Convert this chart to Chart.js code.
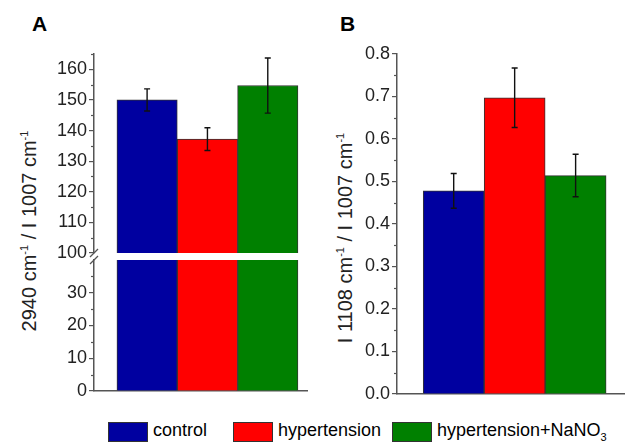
<!DOCTYPE html>
<html>
<head>
<meta charset="utf-8">
<script src="https://cdn.jsdelivr.net/npm/chart.js@4.4.1/dist/chart.umd.min.js"></script>
<style>
  body { margin: 0; background: #fff; font-family: 'Liberation Sans', Arial, sans-serif; }
  #wrap { position: relative; width: 625px; height: 442px; overflow: hidden; }
  canvas { position: absolute; }
  .panel { position: absolute; font-weight: bold; font-size: 21px; }
  .ytitle { position: absolute; width: 280px; height: 24px; line-height: 24px; color: #222;
            text-align: center; font-size: 20px; transform: rotate(-90deg); white-space: nowrap; }
  .ytitle sup { font-size: 11px; }
  .key { position: absolute; top: 422px; width: 38px; height: 18px; border: 1px solid #333; }
  .lbl { position: absolute; top: 420px; font-size: 18px; white-space: nowrap; }
  .lbl sub { font-size: 11px; }
</style>
</head>
<body>
<div id="wrap">
  <div class="panel" style="left:32px; top:12px">A</div>
  <div class="panel" style="left:340px; top:12px">B</div>
  <div class="ytitle" style="left:-116px; top:219px">2940 cm<sup>-1</sup> / I 1007 cm<sup>-1</sup></div>
  <div class="ytitle" style="left:200px; top:226px">I 1108 cm<sup>-1</sup> / I 1007 cm<sup>-1</sup></div>
  <canvas id="aHigh" width="320" height="264" style="left:0; top:0"></canvas>
  <canvas id="aLow" width="320" height="152" style="left:0; top:250px"></canvas>
  <canvas id="chartB" width="325" height="405" style="left:300px; top:0"></canvas>
  <div id="legend"></div>
</div>
<script>
const groups = ["control", "hypertension", "hypertension+NaNO3"];
const colors = ["#0000a0", "#ff0000", "#008000"];

// panel A: 2940/1007 ratio
const ratioA = [150, 137.2, 154.7];
const errA = [3.6, 3.7, 9.0];
// panel B: 1108/1007 ratio
const ratioB = [0.478, 0.697, 0.514];
const errB = [0.041, 0.07, 0.05];

const ticksAHigh = [100, 110, 120, 130, 140, 150, 160];
const ticksALow = [0, 10, 20, 30];
const ticksB = [0, 0.1, 0.2, 0.3, 0.4, 0.5, 0.6, 0.7, 0.8];

const axisColor = "#555";
const font = { family: "'Liberation Sans', Arial, sans-serif", size: 18 };

// error bars from the scales
const errorBars = {
  id: "errorBars",
  afterDatasetsDraw(chart, args, opts) {
    if (!opts.err) return;
    const ctx = chart.ctx;
    const y = chart.scales.y;
    const meta = chart.getDatasetMeta(0);
    ctx.save();
    ctx.strokeStyle = "#111";
    ctx.lineWidth = 1.4;
    meta.data.forEach((bar, i) => {
      const v = opts.values[i];
      const top = y.getPixelForValue(v + opts.err[i]);
      const bot = y.getPixelForValue(v - opts.err[i]);
      ctx.beginPath();
      ctx.moveTo(bar.x, top); ctx.lineTo(bar.x, bot);
      ctx.moveTo(bar.x - 3, top); ctx.lineTo(bar.x + 3, top);
      ctx.moveTo(bar.x - 3, bot); ctx.lineTo(bar.x + 3, bot);
      ctx.stroke();
    });
    ctx.restore();
  }
};

// minor ticks half way between the major ones, and break marks
const minorTicks = {
  id: "minorTicks",
  afterDraw(chart, args, opts) {
    const ctx = chart.ctx;
    const y = chart.scales.y;
    const t = y.ticks.map(k => k.value);
    const step = t[1] - t[0];
    const x = chart.chartArea.left;
    ctx.save();
    ctx.strokeStyle = axisColor;
    ctx.lineWidth = 1.2;
    t.forEach(v => {
      const m = v + step / 2;
      if (m > y.max + 1e-9) return;
      const py = Math.round(y.getPixelForValue(m)) + 0.5;
      ctx.beginPath(); ctx.moveTo(x, py); ctx.lineTo(x - 3, py); ctx.stroke();
    });
    if (opts.breakAt) {
      const py = opts.breakAt === "bottom" ? chart.chartArea.bottom : chart.chartArea.top;
      ctx.lineWidth = 1.3;
      ctx.beginPath(); ctx.moveTo(x - 4, py + 4); ctx.lineTo(x + 4, py - 4); ctx.stroke();
    }
    ctx.restore();
  }
};

function makeChart(id, values, opt) {
  return new Chart(document.getElementById(id), {
    type: "bar",
    data: {
      datasets: [{
        data: values.map((v, i) => ({ x: i, y: v })),
        backgroundColor: colors,
        borderColor: "#333",
        borderWidth: 1,
        barPercentage: 1,
        categoryPercentage: 1
      }]
    },
    options: {
      responsive: false,
      animation: false,
      layout: { padding: opt.padding },
      plugins: {
        legend: { display: false },
        tooltip: { enabled: false },
        errorBars: { values: values, err: opt.err },
        minorTicks: { breakAt: opt.breakAt }
      },
      scales: {
        x: {
          type: "linear",
          min: opt.xMin, max: opt.xMax,
          offset: false,
          display: opt.showBase,
          afterBuildTicks: s => { s.ticks = values.map((v, i) => ({ value: i })); },
          ticks: { display: false },
          grid: { display: false },
          border: { display: true, color: axisColor, width: 1.5 },
          afterFit: s => { s.height = 0; s.paddingLeft = 0; s.paddingRight = 0; }
        },
        y: {
          min: opt.yMin, max: opt.yMax,
          afterBuildTicks: s => { s.ticks = opt.ticks.map(v => ({ value: v })); },
          afterFit: s => { s.width = opt.axisWidth; s.paddingTop = 0; s.paddingBottom = 0; },
          ticks: {
            color: "#222", font: font, padding: 2,
            callback: v => opt.decimals ? v.toFixed(opt.decimals) : v
          },
          grid: { drawOnChartArea: false, drawTicks: true, tickLength: 5, color: axisColor, lineWidth: 1.2 },
          border: { display: true, color: axisColor, width: 1.5 }
        }
      }
    },
    plugins: [errorBars, minorTicks]
  });
}

makeChart("aHigh", ratioA, {
  padding: { left: 0, top: 54, right: 13, bottom: 11 },
  xMin: -0.88, xMax: 2.65, yMin: 100, yMax: 165,
  ticks: ticksAHigh, axisWidth: 94, err: errA, showBase: false, breakAt: "bottom"
});

makeChart("aLow", ratioA, {
  padding: { left: 0, top: 10, right: 13, bottom: 11 },
  xMin: -0.88, xMax: 2.65, yMin: 0, yMax: 40,
  ticks: ticksALow, axisWidth: 94, err: null, showBase: true, breakAt: "top"
});

makeChart("chartB", ratioB, {
  padding: { left: 0, top: 54, right: 0, bottom: 11 },
  xMin: -0.93, xMax: 2.81, yMin: 0, yMax: 0.8,
  ticks: ticksB, axisWidth: 97, err: errB, showBase: true, decimals: 1
});

// legend shared by both panels
const legendPos = [108, 233, 392];
const legend = document.getElementById("legend");
groups.forEach((g, i) => {
  const key = document.createElement("div");
  key.className = "key";
  key.style.left = legendPos[i] + "px";
  key.style.background = colors[i];
  legend.appendChild(key);
  const lbl = document.createElement("div");
  lbl.className = "lbl";
  lbl.style.left = (legendPos[i] + 45) + "px";
  lbl.innerHTML = g.replace("NO3", "NO<sub>3</sub>");
  legend.appendChild(lbl);
});
</script>
</body>
</html>
